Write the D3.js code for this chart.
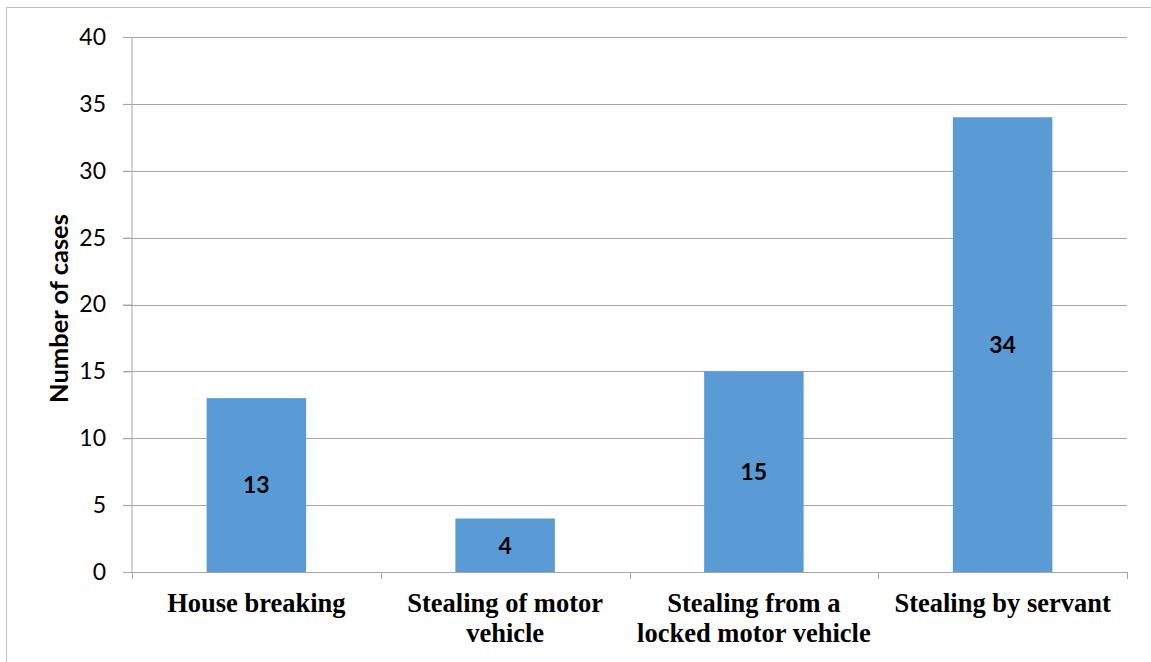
<!DOCTYPE html>
<html>
<head>
<meta charset="utf-8">
<script src="https://cdn.jsdelivr.net/npm/d3@7"></script>
<style>
  html, body { margin: 0; padding: 0; background: #fff; }
  svg { display: block; }
</style>
</head>
<body>
<svg id="chart" width="1151" height="662"></svg>
<script>
// Offence categories (multi-line labels) and number of cases
const categories = [
  ["House breaking"],
  ["Stealing of motor", "vehicle"],
  ["Stealing from a", "locked motor vehicle"],
  ["Stealing by servant"]
];
const cases = [13, 4, 15, 34];
const yTicks = [0, 5, 10, 15, 20, 25, 30, 35, 40];
const yTitle = "Number of cases";

const W = 1151, H = 662;
const margin = { left: 132, right: 24, top: 37, bottom: 90 };
const plotW = W - margin.left - margin.right;
const plotH = H - margin.top - margin.bottom;

const svg = d3.select("#chart");

// outer chart frame
svg.append("rect")
  .attr("x", 6.5).attr("y", 7.5)
  .attr("width", W + 10).attr("height", H + 10)
  .attr("fill", "none").attr("stroke", "#BFBFBF").attr("stroke-width", 1);

const g = svg.append("g").attr("transform", `translate(${margin.left},${margin.top})`);

const keys = categories.map((c, i) => i);
const x = d3.scaleBand().domain(keys).range([0, plotW]).paddingInner(0.6).paddingOuter(0.3);
const xCat = d3.scaleBand().domain(keys).range([0, plotW]);
const y = d3.scaleLinear().domain([0, 40]).range([plotH, 0]);

// horizontal gridlines
g.append("g").selectAll("line").data(yTicks.filter(t => t > 0)).join("line")
  .attr("x1", -9).attr("x2", plotW)
  .attr("y1", d => Math.round(y(d)) + 0.5).attr("y2", d => Math.round(y(d)) + 0.5)
  .attr("stroke", "#A6A6A6").attr("stroke-width", 1);

// bars
g.append("g").selectAll("rect").data(cases).join("rect")
  .attr("x", (d, i) => x(i))
  .attr("y", d => y(d))
  .attr("width", x.bandwidth())
  .attr("height", d => y(0) - y(d))
  .attr("fill", "#5B9BD5");

// y axis
const yAxis = g.append("g")
  .call(d3.axisLeft(y).tickValues(yTicks).tickSize(9).tickPadding(17).tickFormat(d3.format("d")));
yAxis.select(".domain").attr("stroke", "#A6A6A6").attr("d", `M-0.5,${plotH}V0`).attr("transform", "translate(0.5,0)");
yAxis.selectAll(".tick line").attr("stroke", "#A6A6A6");
yAxis.selectAll(".tick text")
  .attr("font-family", "Lato, 'Open Sans', sans-serif")
  .attr("font-size", 23).attr("fill", "#000");

// x axis baseline with category boundary ticks
const xAxisG = g.append("g").attr("transform", `translate(0,${plotH})`);
xAxisG.append("line")
  .attr("x1", 0).attr("x2", plotW).attr("y1", 0.5).attr("y2", 0.5)
  .attr("stroke", "#A6A6A6");
xAxisG.selectAll("line.b").data(keys.concat([keys.length])).join("line")
  .attr("class", "b")
  .attr("x1", d => Math.round(d < keys.length ? xCat(d) : plotW) + 0.5)
  .attr("x2", d => Math.round(d < keys.length ? xCat(d) : plotW) + 0.5)
  .attr("y1", 0).attr("y2", 7)
  .attr("stroke", "#A6A6A6");

// category labels
const catText = xAxisG.selectAll("text.cat").data(categories).join("text")
  .attr("class", "cat")
  .attr("x", (d, i) => xCat(i) + xCat.bandwidth() / 2)
  .attr("y", 40)
  .attr("text-anchor", "middle")
  .attr("font-family", "'Liberation Serif', 'Times New Roman', serif")
  .attr("font-weight", "bold")
  .attr("font-size", 26.5)
  .attr("fill", "#000");
catText.selectAll("tspan").data(d => d).join("tspan")
  .attr("x", function () { return d3.select(this.parentNode).attr("x"); })
  .attr("dy", (d, i) => i === 0 ? 0 : 30)
  .text(d => d);

// value labels centred in bars
g.append("g").selectAll("text").data(cases).join("text")
  .attr("x", (d, i) => x(i) + x.bandwidth() / 2)
  .attr("y", d => (y(d) + y(0)) / 2)
  .attr("dy", "0.36em")
  .attr("text-anchor", "middle")
  .attr("font-family", "Lato, 'Open Sans', sans-serif")
  .attr("font-weight", "bold")
  .attr("font-size", 23)
  .attr("fill", "#000")
  .text(d => d);

// y axis title
svg.append("text")
  .attr("transform", `translate(68,${margin.top + plotH / 2 + 4}) rotate(-90)`)
  .attr("text-anchor", "middle")
  .attr("font-family", "Lato, 'Open Sans', sans-serif")
  .attr("font-weight", "bold")
  .attr("font-size", 25.5)
  .attr("fill", "#000")
  .text(yTitle);
</script>
</body>
</html>
